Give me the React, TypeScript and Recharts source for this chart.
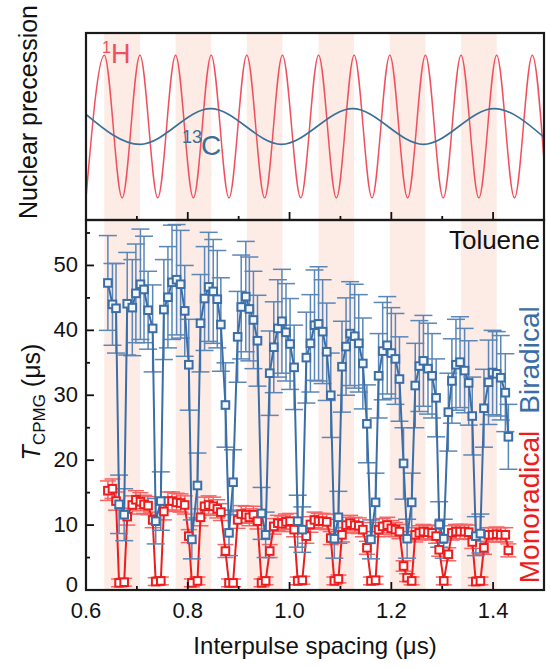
import {
  ComposedChart,
  ErrorBar,
  Line,
  LineChart,
  ReferenceArea,
  XAxis,
  YAxis,
} from 'recharts';

// ─── Data ────────────────────────────────────────────────────────────────────

const spacing = [
  0.643, 0.652, 0.659, 0.665, 0.675, 0.681, 0.691, 0.698, 0.707, 0.714,
  0.722, 0.731, 0.737, 0.747, 0.753, 0.761, 0.769, 0.778, 0.786, 0.794,
  0.802, 0.808, 0.819, 0.825, 0.833, 0.841, 0.85, 0.858, 0.865, 0.874,
  0.881, 0.889, 0.898, 0.905, 0.914, 0.921, 0.929, 0.937, 0.945, 0.953,
  0.961, 0.969, 0.977, 0.985, 0.993, 1.001, 1.009, 1.016, 1.025, 1.033,
  1.041, 1.049, 1.057, 1.065, 1.073, 1.081, 1.088, 1.096, 1.103, 1.111,
  1.119, 1.128, 1.136, 1.144, 1.152, 1.16, 1.169, 1.175, 1.183, 1.192,
  1.2, 1.208, 1.216, 1.224, 1.231, 1.24, 1.247, 1.255, 1.263, 1.272,
  1.28, 1.288, 1.294, 1.303, 1.312, 1.319, 1.327, 1.335, 1.344, 1.352,
  1.359, 1.366, 1.375, 1.382, 1.391, 1.399, 1.407, 1.415, 1.424, 1.43,
];

const biradical = [
  47.3, 44.0, 43.4, 13.2, 11.6, 44.1, 43.5, 45.7, 47.1, 46.3,
  43.1, 40.3, 10.6, 13.7, 43.2, 45.1, 47.4, 47.8, 47.1, 43.0,
  34.7, 7.8, 16.1, 41.1, 44.9, 46.7, 46.0, 44.8, 40.9, 28.5,
  8.8, 16.6, 39.0, 43.6, 45.2, 43.3, 41.6, 38.4, 11.8, 8.5,
  33.4, 37.4, 40.3, 41.4, 39.7, 37.9, 34.3, 10.6, 9.3, 35.8,
  38.0, 40.8, 41.0, 39.8, 36.7, 30.0, 7.9, 11.2, 34.4, 37.5,
  39.5, 39.1, 38.0, 34.9, 25.6, 7.8, 13.5, 33.0, 36.8, 37.7,
  36.5, 35.6, 32.5, 19.5, 7.9, 13.5, 31.5, 34.5, 35.3, 34.1,
  33.0, 29.6, 10.1, 7.9, 27.4, 32.2, 34.7, 35.1, 33.8, 31.9,
  26.8, 8.3, 8.7, 28.0, 32.0, 33.5, 33.3, 32.7, 30.4, 23.6,
];

const biradicalErr = [
  7.3, 6.3, 6.9, 4.5, 4.0, 7.9, 7.4, 7.6, 8.5, 8.2,
  6.0, 6.7, 3.5, 4.5, 7.7, 7.8, 8.8, 8.5, 8.3, 7.0,
  7.0, 3.0, 5.0, 7.5, 8.0, 8.4, 8.0, 7.5, 7.2, 6.5,
  3.5, 5.0, 7.0, 8.0, 8.5, 8.0, 7.5, 7.0, 4.0, 3.5,
  6.5, 7.0, 7.5, 8.0, 7.5, 7.0, 6.5, 4.0, 3.5, 7.0,
  7.5, 8.5, 8.8, 8.0, 7.5, 6.5, 3.0, 4.0, 7.0, 7.5,
  8.0, 8.0, 7.5, 7.0, 6.0, 3.0, 4.5, 6.5, 7.5, 7.5,
  7.0, 7.0, 6.5, 5.5, 3.0, 4.5, 6.5, 7.0, 7.0, 7.0,
  6.5, 6.0, 3.5, 3.0, 6.0, 6.5, 7.0, 7.0, 6.5, 6.5,
  6.0, 3.0, 3.0, 6.0, 6.5, 6.5, 6.5, 6.5, 6.0, 5.0,
];

const monoradical = [
  15.3, 15.6, 13.7, 1.1, 1.2, 11.3, 13.1, 13.9, 13.6, 13.2,
  13.0, 10.8, 1.3, 1.4, 12.1, 13.7, 13.7, 13.5, 13.4, 13.1,
  8.3, 1.1, 1.4, 11.2, 12.9, 13.1, 12.9, 12.5, 12.0, 6.0,
  1.1, 1.1, 10.8, 11.7, 11.6, 11.2, 11.6, 10.6, 1.1, 1.4,
  6.0, 9.8, 10.3, 10.2, 10.5, 10.6, 9.3, 1.4, 1.5, 8.3,
  10.1, 10.8, 10.6, 10.6, 10.5, 8.0, 1.4, 1.7, 8.5, 10.0,
  10.3, 10.0, 9.9, 9.3, 6.5, 1.4, 1.5, 9.3, 9.8, 10.0,
  9.5, 9.3, 9.0, 3.7, 1.9, 1.4, 8.5, 8.8, 9.0, 8.9,
  8.8, 8.3, 6.2, 1.4, 5.5, 8.8, 9.0, 9.0, 9.0, 8.9,
  7.4, 1.3, 1.4, 6.5, 8.5, 8.5, 8.6, 8.5, 8.5, 6.1,
];

const monoradicalErr = [
  1.5, 1.5, 1.4, 0.6, 0.6, 1.3, 1.4, 1.4, 1.4, 1.4,
  1.4, 1.2, 0.6, 0.6, 1.3, 1.4, 1.4, 1.4, 1.4, 1.4,
  1.0, 0.6, 0.6, 1.3, 1.4, 1.4, 1.4, 1.4, 1.3, 1.0,
  0.6, 0.6, 1.3, 1.3, 1.3, 1.3, 1.3, 1.2, 0.6, 0.6,
  1.0, 1.2, 1.2, 1.2, 1.2, 1.2, 1.1, 0.6, 0.6, 1.1,
  1.2, 1.2, 1.2, 1.2, 1.2, 1.0, 0.6, 0.6, 1.1, 1.2,
  1.2, 1.2, 1.2, 1.1, 1.0, 0.6, 0.6, 1.1, 1.2, 1.2,
  1.2, 1.1, 1.1, 0.8, 0.6, 0.6, 1.1, 1.1, 1.1, 1.1,
  1.1, 1.1, 1.0, 0.6, 1.0, 1.1, 1.1, 1.1, 1.1, 1.1,
  1.0, 0.6, 0.6, 1.0, 1.1, 1.1, 1.1, 1.1, 1.1, 1.0,
];

// 1H and 13C precession: turning points
const hydrogenX = [
  0.6, 0.636, 0.671, 0.706, 0.741, 0.776, 0.811, 0.846, 0.881, 0.916,
  0.951, 0.986, 1.022, 1.057, 1.092, 1.127, 1.162, 1.197, 1.232, 1.267,
  1.302, 1.337, 1.372, 1.407, 1.442, 1.477, 1.5,
];
const hydrogenY = [
  -1, 1, -1, 1, -1, 1, -1, 1, -1, 1,
  -1, 1, -1, 1, -1, 1, -1, 1, -1, 1,
  -1, 1, -1, 1, -1, 1, -0.47,
];
const carbonX = [0.6, 0.706, 0.845, 0.984, 1.124, 1.263, 1.402, 1.5];
const carbonY = [0.17, -0.25, 0.25, -0.25, 0.25, -0.25, 0.25, -0.15];

const bandStart = [0.636, 0.776, 0.916, 1.057, 1.197, 1.337];
const bandEnd = [0.706, 0.846, 0.986, 1.127, 1.267, 1.407];

const xMajorTicks = [0.6, 0.8, 1.0, 1.2, 1.4];
const xMinorTicks = [0.7, 0.9, 1.1, 1.3];
const yMajorTicks = [0, 10, 20, 30, 40, 50];
const yMinorTicks = [5, 15, 25, 35, 45, 55];

// ─── Layout / style ──────────────────────────────────────────────────────────

const WIDTH = 551;
const HEIGHT = 669;
const PLOT_L = 86;
const PLOT_R = 544;
const TOP_T = 33;
const MID_Y = 220;
const BOT_B = 590;
const X_AXIS_H = 30;
const Y_AXIS_W = 40;

const FONT = 'Liberation Sans, Arial, sans-serif';
const RED = '#ee1c1c';
const BLUE = '#3b6ea6';
const H_RED = '#f0505e';
const C_BLUE = '#3a6f98';
const BAND = '#fdebe6';

const xTicks = [...xMajorTicks, ...xMinorTicks].sort((a, b) => a - b);
const yTicks = [...yMajorTicks, ...yMinorTicks].sort((a, b) => a - b);

const measurementRows = spacing.map((x, i) => ({
  x,
  bi: biradical[i],
  biErr: biradicalErr[i],
  mono: monoradical[i],
  monoErr: monoradicalErr[i],
}));
const hydrogenRows = hydrogenX.map((x, i) => ({ x, v: hydrogenY[i] }));
const carbonRows = carbonX.map((x, i) => ({ x, v: carbonY[i] }));

const inList = (list: number[], v: number) =>
  list.some((t) => Math.abs(t - v) < 1e-6);

// ticks point into the plot, labels sit outside
function BottomTick(props: any) {
  const { x, y, payload } = props;
  const major = inList(xMajorTicks, payload.value);
  return (
    <g>
      <line x1={x} x2={x} y1={y} y2={y - (major ? 8 : 4)} stroke="#111" strokeWidth={1.8} />
      {major && (
        <text x={x} y={y + 28} textAnchor="middle" fontSize={22} fontFamily={FONT} fill="#111">
          {payload.value.toFixed(1)}
        </text>
      )}
    </g>
  );
}

function TopPanelTick(props: any) {
  const { x, y, payload } = props;
  const major = inList(xMajorTicks, payload.value);
  return <line x1={x} x2={x} y1={y} y2={y - (major ? 8 : 4)} stroke="#111" strokeWidth={1.8} />;
}

function LeftTick(props: any) {
  const { x, y, payload } = props;
  const major = inList(yMajorTicks, payload.value);
  // the zero label sits a little higher so it clears the 0.6 label below it
  const baseline = payload.value === 0 ? y + 2 : y + 7;
  return (
    <g>
      <line x1={x} x2={x + (major ? 8 : 4)} y1={y} y2={y} stroke="#111" strokeWidth={1.8} />
      {major && (
        <text x={x - 8} y={baseline} textAnchor="end" fontSize={22} fontFamily={FONT} fill="#111">
          {payload.value}
        </text>
      )}
    </g>
  );
}

const squareDot = (stroke: string, fill: string) => (p: any) => {
  const { cx, cy, index } = p;
  if (cx == null || cy == null) return <g key={index} />;
  return (
    <rect
      key={index}
      x={cx - 3.8}
      y={cy - 3.8}
      width={7.6}
      height={7.6}
      fill={fill}
      stroke={stroke}
      strokeWidth={2}
    />
  );
};

export default function App() {
  return (
    <div style={{ position: 'absolute', left: 0, top: 0, width: WIDTH, height: HEIGHT, background: '#fff' }}>
      {/* top panel: nuclear precession */}
      <div style={{ position: 'absolute', left: 0, top: 0 }}>
        <LineChart
          width={WIDTH}
          height={MID_Y + 10}
          margin={{ top: TOP_T, right: WIDTH - PLOT_R, bottom: 0, left: PLOT_L }}
        >
          <XAxis
            type="number"
            dataKey="x"
            domain={[0.6, 1.5]}
            ticks={xTicks}
            interval={0}
            height={10}
            tickSize={0}
            tickMargin={0}
            axisLine={false}
            tick={<TopPanelTick />}
            allowDataOverflow
          />
          <YAxis hide type="number" domain={[-1.31, 1.31]} allowDataOverflow />
          {bandStart.map((s, i) => (
            <ReferenceArea key={s} x1={s} x2={bandEnd[i]} fill={BAND} fillOpacity={1} stroke="none" />
          ))}
          <Line
            data={hydrogenRows}
            dataKey="v"
            type="monotone"
            stroke={H_RED}
            strokeWidth={1.5}
            dot={false}
            isAnimationActive={false}
          />
          <Line
            data={carbonRows}
            dataKey="v"
            type="monotone"
            stroke={C_BLUE}
            strokeWidth={1.6}
            dot={false}
            isAnimationActive={false}
          />
        </LineChart>
      </div>

      {/* bottom panel: T_CPMG vs interpulse spacing */}
      <div style={{ position: 'absolute', left: 0, top: 0 }}>
        <ComposedChart
          width={WIDTH}
          height={HEIGHT}
          data={measurementRows}
          margin={{
            top: MID_Y,
            right: WIDTH - PLOT_R,
            bottom: HEIGHT - BOT_B - X_AXIS_H,
            left: PLOT_L - Y_AXIS_W,
          }}
        >
          <XAxis
            type="number"
            dataKey="x"
            domain={[0.6, 1.5]}
            ticks={xTicks}
            interval={0}
            height={X_AXIS_H}
            tickSize={0}
            tickMargin={0}
            axisLine={false}
            tick={<BottomTick />}
            allowDataOverflow
          />
          <YAxis
            type="number"
            domain={[0, 57]}
            ticks={yTicks}
            interval={0}
            width={Y_AXIS_W}
            tickSize={0}
            tickMargin={0}
            axisLine={false}
            tick={<LeftTick />}
            allowDataOverflow
          />
          {bandStart.map((s, i) => (
            <ReferenceArea key={s} x1={s} x2={bandEnd[i]} fill={BAND} fillOpacity={1} stroke="none" />
          ))}
          <Line
            dataKey="mono"
            type="linear"
            stroke={RED}
            strokeWidth={2}
            dot={squareDot(RED, '#fff')}
            isAnimationActive={false}
          >
            <ErrorBar dataKey="monoErr" width={8} stroke="#f56565" strokeWidth={1.5} isAnimationActive={false} />
          </Line>
          <Line
            dataKey="bi"
            type="linear"
            stroke={BLUE}
            strokeWidth={2}
            dot={squareDot(BLUE, '#f3f6fa')}
            isAnimationActive={false}
          >
            <ErrorBar dataKey="biErr" width={9} stroke="#5a86b8" strokeWidth={1.5} isAnimationActive={false} />
          </Line>
        </ComposedChart>
      </div>

      {/* frames and labels */}
      <svg
        width={WIDTH}
        height={HEIGHT}
        style={{ position: 'absolute', left: 0, top: 0, pointerEvents: 'none' }}
        fontFamily={FONT}
      >
        <rect x={PLOT_L} y={TOP_T} width={PLOT_R - PLOT_L} height={MID_Y - TOP_T} fill="none" stroke="#1a1a1a" strokeWidth={2.2} />
        <rect x={PLOT_L} y={MID_Y} width={PLOT_R - PLOT_L} height={BOT_B - MID_Y} fill="none" stroke="#1a1a1a" strokeWidth={2.2} />

        <text x={102} y={53} fontSize={16} fill={H_RED}>1</text>
        <text x={111} y={63} fontSize={27} fill={H_RED}>H</text>
        <text x={182} y={143} fontSize={18} fill={C_BLUE}>13</text>
        <text x={201} y={155} fontSize={28} fill={C_BLUE}>C</text>

        <text x={540} y={249} fontSize={26} textAnchor="end" fill="#111">Toluene</text>
        <text transform="translate(539,360) rotate(-90)" fontSize={28} textAnchor="middle" fill={BLUE}>Biradical</text>
        <text transform="translate(539,507) rotate(-90)" fontSize={28} textAnchor="middle" fill={RED}>Monoradical</text>

        <text transform="translate(37,112) rotate(-90)" fontSize={25} textAnchor="middle" fill="#111">
          Nuclear precession
        </text>
        <text transform="translate(40,402) rotate(-90)" fontSize={25} textAnchor="middle" fill="#111">
          <tspan fontStyle="italic">T</tspan>
          <tspan fontSize={17} dy={5}>CPMG</tspan>
          <tspan dy={-5}> (μs)</tspan>
        </text>
        <text x={315} y={654} fontSize={24} textAnchor="middle" fill="#111">
          Interpulse spacing (μs)
        </text>
      </svg>
    </div>
  );
}
